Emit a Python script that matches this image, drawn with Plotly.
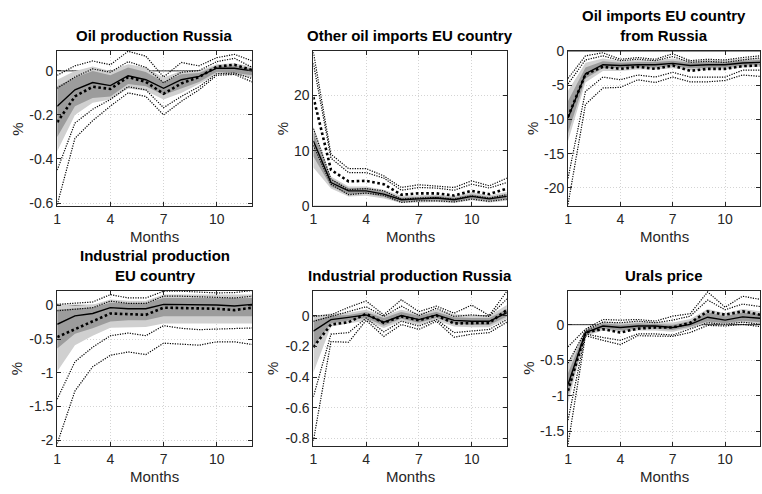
import plotly.graph_objects as go

# Impulse responses over a 12-month horizon
MONTHS = list(range(1, 13))
X_TICKS = [1, 4, 7, 10]
X_TICK_LABELS = ["1", "4", "7", "10"]

# --- Oil production Russia ---
OPR_MED = [-0.160, -0.086, -0.053, -0.067, -0.022, -0.040, -0.079, -0.040, -0.025, 0.012, 0.012, 0.000]
OPR_B68_HI = [-0.070, -0.030, 0.000, -0.020, 0.015, -0.005, -0.050, -0.015, -0.010, 0.025, 0.025, 0.010]
OPR_B68_LO = [-0.300, -0.160, -0.123, -0.116, -0.060, -0.070, -0.110, -0.080, -0.050, -0.005, -0.010, -0.020]
OPR_B90_HI = [-0.040, 0.000, 0.020, 0.000, 0.030, 0.015, -0.030, 0.000, 0.000, 0.030, 0.035, 0.020]
OPR_B90_LO = [-0.365, -0.200, -0.145, -0.130, -0.080, -0.090, -0.130, -0.100, -0.060, -0.015, -0.020, -0.030]
OPR_ALT = [-0.233, -0.116, -0.072, -0.082, -0.028, -0.050, -0.104, -0.057, -0.028, 0.019, 0.028, 0.004]
OPR_ALT_IN_HI = [-0.079, -0.028, 0.009, -0.006, 0.042, 0.016, -0.054, -0.006, 0.001, 0.042, 0.057, 0.016]
OPR_ALT_OUT_HI = [-0.020, 0.023, 0.045, 0.028, 0.089, 0.067, -0.028, 0.038, 0.023, 0.060, 0.075, 0.045]
OPR_ALT_IN_LO = [-0.450, -0.237, -0.174, -0.130, -0.072, -0.086, -0.167, -0.116, -0.072, -0.013, -0.010, -0.035]
OPR_ALT_OUT_LO = [-0.607, -0.306, -0.226, -0.160, -0.100, -0.116, -0.200, -0.138, -0.086, -0.020, -0.016, -0.050]

# --- Other oil imports EU country ---
OOI_MED = [11.8, 4.3, 2.8, 2.8, 2.2, 1.2, 1.35, 1.5, 1.2, 1.8, 1.35, 1.8]
OOI_B68_HI = [13.3, 5.0, 3.3, 3.3, 2.7, 1.6, 1.7, 1.9, 1.6, 2.2, 1.7, 2.2]
OOI_B68_LO = [9.0, 3.6, 2.2, 2.3, 1.7, 0.8, 0.95, 1.1, 0.85, 1.4, 1.0, 1.35]
OOI_B90_HI = [14.5, 5.4, 3.6, 3.6, 3.0, 1.9, 2.0, 2.1, 1.9, 2.5, 2.0, 2.6]
OOI_B90_LO = [7.0, 3.2, 1.8, 1.9, 1.4, 0.6, 0.7, 0.8, 0.6, 1.1, 0.7, 1.0]
OOI_ALT = [19.7, 6.6, 4.5, 4.6, 4.0, 2.1, 2.35, 2.35, 1.95, 2.8, 2.2, 3.2]
OOI_ALT_IN_HI = [25.8, 8.7, 6.1, 6.1, 5.1, 2.9, 3.4, 3.3, 2.9, 4.0, 3.3, 4.3]
OOI_ALT_OUT_HI = [27.8, 9.4, 6.8, 6.8, 5.5, 3.4, 3.9, 3.7, 3.4, 4.6, 3.7, 5.1]
OOI_ALT_IN_LO = [14.0, 4.9, 3.0, 3.2, 2.8, 1.3, 1.5, 1.6, 1.3, 1.9, 1.5, 2.1]
OOI_ALT_OUT_LO = [11.0, 4.0, 2.1, 2.4, 2.0, 0.7, 1.0, 1.0, 0.8, 1.3, 0.9, 1.3]

# --- Oil imports EU country from Russia ---
OIR_MED = [-9.8, -3.3, -2.0, -2.1, -2.0, -2.0, -1.8, -2.1, -2.0, -2.0, -1.75, -1.65]
OIR_B68_HI = [-7.3, -2.4, -1.5, -1.7, -1.6, -1.6, -1.4, -1.7, -1.6, -1.6, -1.4, -1.3]
OIR_B68_LO = [-12.0, -4.0, -2.5, -2.5, -2.4, -2.4, -2.2, -2.5, -2.4, -2.4, -2.1, -2.0]
OIR_B90_HI = [-5.8, -1.7, -1.1, -1.4, -1.3, -1.3, -1.1, -1.4, -1.3, -1.3, -1.1, -1.0]
OIR_B90_LO = [-13.2, -4.6, -2.9, -2.9, -2.7, -2.7, -2.5, -2.8, -2.7, -2.7, -2.4, -2.3]
OIR_ALT = [-9.6, -3.4, -2.3, -2.6, -2.3, -2.6, -2.1, -2.9, -2.6, -2.6, -2.2, -2.1]
OIR_ALT_IN_HI = [-4.8, -1.3, -0.7, -1.4, -1.2, -1.4, -0.8, -1.65, -1.5, -1.65, -1.3, -1.0]
OIR_ALT_OUT_HI = [-4.0, -0.7, -0.25, -1.2, -0.95, -1.2, -0.4, -1.4, -1.2, -1.3, -0.95, -0.7]
OIR_ALT_IN_LO = [-18.6, -5.9, -3.8, -4.2, -3.5, -3.8, -3.1, -3.8, -3.8, -3.8, -2.8, -2.8]
OIR_ALT_OUT_LO = [-22.4, -7.8, -5.4, -5.3, -4.2, -4.6, -3.8, -4.5, -4.5, -4.3, -3.5, -3.7]

# --- Industrial production EU country ---
IPE_MED = [-0.28, -0.155, -0.12, -0.034, -0.05, -0.05, 0.015, 0.015, 0.015, 0.005, -0.01, 0.015]
IPE_B68_HI = [-0.06, -0.04, -0.03, 0.04, 0.03, 0.03, 0.11, 0.11, 0.11, 0.10, 0.10, 0.11]
IPE_B68_LO = [-0.64, -0.42, -0.34, -0.24, -0.22, -0.22, -0.16, -0.16, -0.17, -0.16, -0.16, -0.16]
IPE_B90_HI = [0.015, 0.0, 0.01, 0.087, 0.07, 0.07, 0.16, 0.16, 0.16, 0.15, 0.15, 0.16]
IPE_B90_LO = [-0.98, -0.59, -0.45, -0.33, -0.32, -0.32, -0.27, -0.27, -0.28, -0.27, -0.27, -0.27]
IPE_ALT = [-0.47, -0.35, -0.24, -0.12, -0.13, -0.14, -0.034, -0.04, -0.045, -0.05, -0.07, -0.034]
IPE_ALT_IN_HI = [-0.08, -0.06, -0.034, 0.063, 0.03, 0.03, 0.136, 0.136, 0.126, 0.11, 0.11, 0.136]
IPE_ALT_OUT_HI = [0.015, 0.03, 0.05, 0.16, 0.11, 0.11, 0.21, 0.21, 0.20, 0.185, 0.19, 0.22]
IPE_ALT_IN_LO = [-1.39, -0.835, -0.62, -0.45, -0.41, -0.45, -0.30, -0.34, -0.36, -0.35, -0.35, -0.335]
IPE_ALT_OUT_LO = [-2.05, -1.27, -0.91, -0.74, -0.69, -0.73, -0.56, -0.57, -0.59, -0.54, -0.54, -0.58]

# --- Industrial production Russia ---
IPR_MED = [-0.10, -0.025, -0.01, 0.006, -0.042, 0.002, -0.025, 0.006, -0.03, -0.036, -0.036, 0.02]
IPR_B68_HI = [-0.03, 0.0, 0.005, 0.025, -0.015, 0.025, 0.0, 0.025, -0.01, -0.015, -0.015, 0.045]
IPR_B68_LO = [-0.20, -0.05, -0.03, -0.015, -0.065, -0.02, -0.045, -0.015, -0.05, -0.06, -0.06, -0.005]
IPR_B90_HI = [0.0, 0.015, 0.02, 0.04, 0.0, 0.04, 0.015, 0.04, 0.01, 0.005, 0.0, 0.07]
IPR_B90_LO = [-0.37, -0.07, -0.05, -0.03, -0.08, -0.035, -0.06, -0.03, -0.07, -0.075, -0.075, -0.02]
IPR_ALT = [-0.205, -0.057, -0.042, 0.013, -0.046, -0.004, -0.03, 0.002, -0.05, -0.05, -0.046, 0.038]
IPR_ALT_IN_HI = [-0.036, -0.004, 0.027, 0.059, -0.004, 0.063, 0.002, 0.049, -0.004, 0.006, -0.004, 0.11]
IPR_ALT_OUT_HI = [-0.004, 0.006, 0.055, 0.097, 0.006, 0.105, 0.027, 0.063, 0.017, 0.07, 0.002, 0.16]
IPR_ALT_IN_LO = [-0.53, -0.12, -0.11, -0.015, -0.105, -0.036, -0.067, -0.025, -0.11, -0.10, -0.089, -0.025]
IPR_ALT_OUT_LO = [-0.817, -0.169, -0.173, -0.03, -0.135, -0.057, -0.089, -0.036, -0.14, -0.12, -0.11, -0.042]

# --- Urals price ---
URP_MED = [-0.84, -0.11, -0.018, -0.04, -0.018, -0.018, -0.04, 0.005, 0.105, 0.064, 0.11, 0.09]
URP_B68_HI = [-0.68, -0.08, 0.02, 0.0, 0.02, 0.015, 0.0, 0.05, 0.17, 0.12, 0.17, 0.15]
URP_B68_LO = [-1.00, -0.14, -0.055, -0.08, -0.055, -0.055, -0.075, -0.03, 0.045, 0.02, 0.055, 0.035]
URP_B90_HI = [-0.55, -0.06, 0.045, 0.025, 0.045, 0.04, 0.03, 0.08, 0.22, 0.16, 0.22, 0.19]
URP_B90_LO = [-1.10, -0.16, -0.08, -0.10, -0.08, -0.08, -0.10, -0.05, 0.02, 0.0, 0.03, 0.01]
URP_ALT = [-0.93, -0.11, -0.064, -0.11, -0.055, -0.04, -0.04, 0.027, 0.187, 0.14, 0.187, 0.14]
URP_ALT_IN_HI = [-0.54, -0.087, 0.036, 0.027, 0.05, 0.027, 0.064, 0.12, 0.346, 0.21, 0.29, 0.255]
URP_ALT_OUT_HI = [-0.31, -0.064, 0.073, 0.064, 0.073, 0.05, 0.12, 0.155, 0.46, 0.246, 0.40, 0.356]
URP_ALT_IN_LO = [-1.34, -0.13, -0.18, -0.22, -0.13, -0.13, -0.146, -0.064, 0.027, 0.005, 0.036, 0.005]
URP_ALT_OUT_LO = [-1.68, -0.155, -0.22, -0.28, -0.155, -0.155, -0.164, -0.11, -0.01, -0.018, 0.005, -0.027]

# Panel titles and y-axis ticks
TITLES = [
    "Oil production Russia",
    "Other oil imports EU country",
    "Oil imports EU country<br>from Russia",
    "Industrial production<br>EU country",
    "Industrial production Russia",
    "Urals price",
]
Y_TICKS = [
    [-0.6, -0.4, -0.2, 0],
    [0, 10, 20],
    [-20, -15, -10, -5, 0],
    [-2, -1.5, -1, -0.5, 0],
    [-0.8, -0.6, -0.4, -0.2, 0],
    [-1.5, -1, -0.5, 0],
]
Y_TICK_LABELS = [
    ["-0.6", "-0.4", "-0.2", "0"],
    ["0", "10", "20"],
    ["-20", "-15", "-10", "-5", "0"],
    ["-2", "-1.5", "-1", "-0.5", "0"],
    ["-0.8", "-0.6", "-0.4", "-0.2", "0"],
    ["-1.5", "-1", "-0.5", "0"],
]
Y_RANGES = [
    [-0.615, 0.09],
    [0, 28],
    [-22.7, 0],
    [-2.09, 0.22],
    [-0.853, 0.165],
    [-1.71, 0.48],
]

SERIES = [
    (OPR_MED, OPR_B68_HI, OPR_B68_LO, OPR_B90_HI, OPR_B90_LO, OPR_ALT,
     OPR_ALT_IN_HI, OPR_ALT_OUT_HI, OPR_ALT_IN_LO, OPR_ALT_OUT_LO),
    (OOI_MED, OOI_B68_HI, OOI_B68_LO, OOI_B90_HI, OOI_B90_LO, OOI_ALT,
     OOI_ALT_IN_HI, OOI_ALT_OUT_HI, OOI_ALT_IN_LO, OOI_ALT_OUT_LO),
    (OIR_MED, OIR_B68_HI, OIR_B68_LO, OIR_B90_HI, OIR_B90_LO, OIR_ALT,
     OIR_ALT_IN_HI, OIR_ALT_OUT_HI, OIR_ALT_IN_LO, OIR_ALT_OUT_LO),
    (IPE_MED, IPE_B68_HI, IPE_B68_LO, IPE_B90_HI, IPE_B90_LO, IPE_ALT,
     IPE_ALT_IN_HI, IPE_ALT_OUT_HI, IPE_ALT_IN_LO, IPE_ALT_OUT_LO),
    (IPR_MED, IPR_B68_HI, IPR_B68_LO, IPR_B90_HI, IPR_B90_LO, IPR_ALT,
     IPR_ALT_IN_HI, IPR_ALT_OUT_HI, IPR_ALT_IN_LO, IPR_ALT_OUT_LO),
    (URP_MED, URP_B68_HI, URP_B68_LO, URP_B90_HI, URP_B90_LO, URP_ALT,
     URP_ALT_IN_HI, URP_ALT_OUT_HI, URP_ALT_IN_LO, URP_ALT_OUT_LO),
]

# Page geometry (pixels)
W, H = 762, 494
COLS_PX = [(53.5, 249.5), (311, 505.5), (567, 760)]
ROWS_PX = [(44.5, 205), (292, 453)]
PCT_X_PX = [14, 280, 532, 13, 270, 527]

FONT = "Liberation Sans, Arial, Helvetica, sans-serif"
AX = "#262626"
LIGHT = "#d0d0d0"
DARK = "#9c9c9c"

fig = go.Figure()
annotations = []
layout_axes = {}

for i, s in enumerate(SERIES):
    med, b68h, b68l, b90h, b90l, alt, inh, outh, inl, outl = s
    r, c = divmod(i, 3)
    n = "" if i == 0 else str(i + 1)
    xref, yref = "x" + n, "y" + n
    x0, x1 = COLS_PX[c]
    top, bot = ROWS_PX[r]

    # zero reference line
    fig.add_trace(go.Scatter(x=[MONTHS[0], MONTHS[-1]], y=[0, 0], mode="lines",
                             line=dict(color="black", width=0.8),
                             xaxis=xref, yaxis=yref, hoverinfo="skip"))
    # credible bands
    for hi, lo, col in ((b90h, b90l, LIGHT), (b68h, b68l, DARK)):
        fig.add_trace(go.Scatter(x=MONTHS + MONTHS[::-1], y=hi + lo[::-1],
                                 fill="toself", fillcolor=col, mode="lines",
                                 line=dict(width=0, color=col),
                                 xaxis=xref, yaxis=yref, hoverinfo="skip"))
    # alternative-specification bands
    for band in (inh, outh, inl, outl):
        fig.add_trace(go.Scatter(x=MONTHS, y=band, mode="lines",
                                 line=dict(color="black", width=1.2, dash="1.2px,1.3px"),
                                 xaxis=xref, yaxis=yref))
    # alternative-specification median
    fig.add_trace(go.Scatter(x=MONTHS, y=alt, mode="lines",
                             line=dict(color="black", width=2.6, dash="2.6px,2.6px"),
                             xaxis=xref, yaxis=yref))
    # baseline median
    fig.add_trace(go.Scatter(x=MONTHS, y=med, mode="lines",
                             line=dict(color="black", width=1.4),
                             xaxis=xref, yaxis=yref))

    common = dict(showline=True, linecolor=AX, linewidth=1, mirror="ticks",
                  ticks="inside", ticklen=4, tickcolor=AX, tickwidth=1,
                  showgrid=True, gridcolor="#d4d4d4", griddash="1px,2px", gridwidth=1,
                  zeroline=False, tickfont=dict(family=FONT, size=14, color=AX))
    layout_axes["xaxis" + n] = dict(domain=[x0 / W, x1 / W], anchor=yref,
                                    range=[MONTHS[0], MONTHS[-1]],
                                    tickmode="array", tickvals=X_TICKS,
                                    ticktext=X_TICK_LABELS, **common)
    layout_axes["yaxis" + n] = dict(domain=[1 - bot / H, 1 - top / H], anchor=xref,
                                    range=Y_RANGES[i], tickmode="array",
                                    tickvals=Y_TICKS[i], ticktext=Y_TICK_LABELS[i],
                                    **common)

    cx = (x0 + x1) / 2 / W
    annotations.append(dict(text="<b>" + TITLES[i] + "</b>", x=cx, y=1 - (top - 5) / H,
                            xref="paper", yref="paper", xanchor="center",
                            yanchor="bottom", showarrow=False,
                            font=dict(family=FONT, size=15, color="black")))
    annotations.append(dict(text="Months", x=cx, y=1 - (bot + 31) / H,
                            xref="paper", yref="paper", xanchor="center",
                            yanchor="middle", showarrow=False,
                            font=dict(family=FONT, size=15, color=AX)))
    annotations.append(dict(text="%", x=PCT_X_PX[i] / W, y=1 - (top + bot) / 2 / H,
                            xref="paper", yref="paper", xanchor="center",
                            yanchor="middle", textangle=-90, showarrow=False,
                            font=dict(family=FONT, size=15, color=AX)))

fig.update_layout(width=W, height=H, margin=dict(l=0, r=0, t=0, b=0),
                  paper_bgcolor="white", plot_bgcolor="white",
                  showlegend=False, annotations=annotations, **layout_axes)

fig.write_html("out.html")
